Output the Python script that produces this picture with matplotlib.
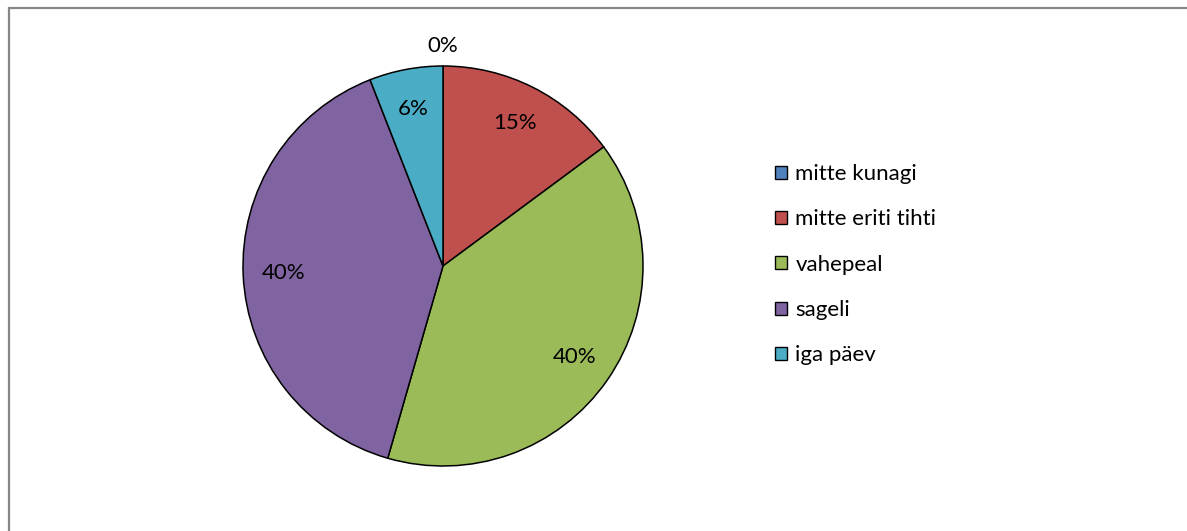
import matplotlib.pyplot as plt
from matplotlib.patches import Patch, Rectangle

plt.rcParams['font.family'] = ['Lato', 'DejaVu Sans']

categories = ["mitte kunagi", "mitte eriti tihti", "vahepeal", "sageli", "iga päev"]
shares = [0, 15, 40, 40, 6]
colors = ["#4F81BD", "#C0504D", "#9BBB59", "#8064A2", "#4BACC6"]

W, H = 1187, 531
fig = plt.figure(figsize=(W / 100, H / 100), dpi=100)

# grey chart border (right and bottom edges fall outside the picture)
fig.patches.append(Rectangle((8.5 / W, -0.1), 1.2, 1.1 - 7.5 / H,
                             transform=fig.transFigure, fill=False,
                             edgecolor="#868686", linewidth=1.6))

# pie: centre (443, 266), radius 200 px
ax = fig.add_axes([(443 - 200) / W, (H - 466) / H, 400 / W, 400 / H])
wedges, texts, autotexts = ax.pie(shares, colors=colors, startangle=90,
                                  counterclock=False, autopct='%.0f%%',
                                  pctdistance=0.8,
                                  wedgeprops=dict(edgecolor="black", linewidth=1.1),
                                  textprops=dict(fontsize=16, color="black"))
ax.set_xlim(-1, 1)
ax.set_ylim(-1, 1)
ax.set_aspect('equal')

# the empty slice gets its label just outside the rim
for val, t in zip(shares, autotexts):
    if val == 0:
        x, y = t.get_position()
        t.set_position((x / 0.8 * 1.1, y / 0.8 * 1.1))

handles = [Patch(facecolor=c, edgecolor="black", linewidth=1.0) for c in colors]
fig.legend(handles, categories, loc="upper left",
           bbox_to_anchor=(755 / W, 1 - 144 / H), frameon=False,
           fontsize=16, labelspacing=1.14, handlelength=0.52,
           handleheight=0.52, handletextpad=0.4)

fig.savefig("out.png", dpi=100)
